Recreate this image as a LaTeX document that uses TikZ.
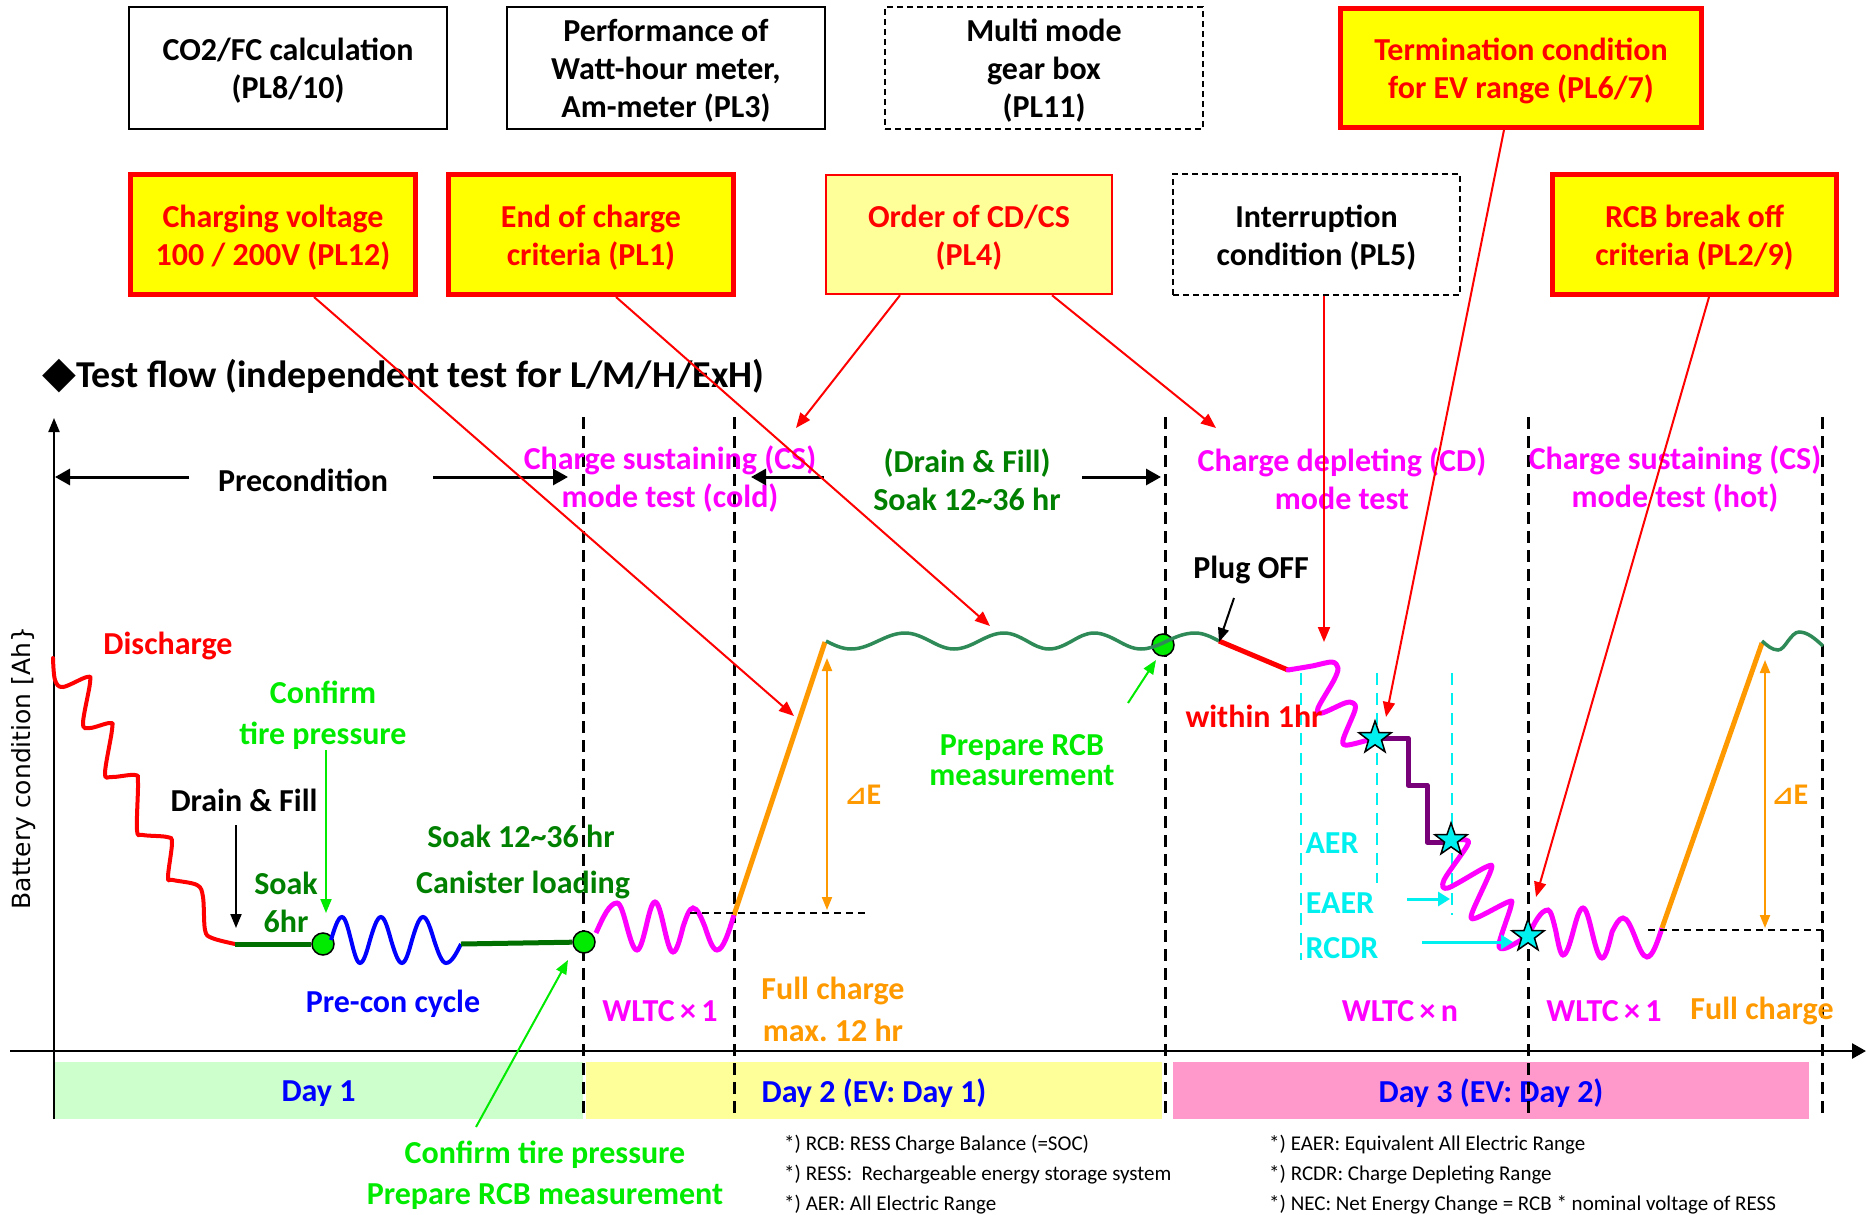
\documentclass[tikz,border=0pt]{standalone}
\usepackage{fontspec}
\setmainfont{Carlito}
\newfontfamily\djv{DejaVu Sans}
\usetikzlibrary{arrows.meta,shapes.geometric,calc}
\definecolor{bgreen}{RGB}{0,235,0}
\definecolor{dgreen}{RGB}{0,128,0}
\definecolor{lgreen}{RGB}{0,112,0}
\definecolor{tealw}{RGB}{46,139,87}
\definecolor{mag}{RGB}{255,0,255}
\definecolor{orng}{RGB}{255,153,0}
\definecolor{cyn}{RGB}{0,240,240}
\definecolor{purp}{RGB}{120,0,120}
\definecolor{ylw}{RGB}{255,255,0}
\definecolor{lylw}{RGB}{255,255,153}
\definecolor{dayone}{RGB}{204,255,204}
\definecolor{daythree}{RGB}{255,153,204}
\definecolor{blu}{RGB}{0,0,255}
\definecolor{rd}{RGB}{255,0,0}
\frenchspacing
\begin{document}
\begin{tikzpicture}[x=1pt,y=-1pt,
  lab/.style={font=\bfseries\fontsize{32}{38}\selectfont,align=center,inner sep=0pt},
  tl/.style={lab,yshift=-3pt},
  foot/.style={font=\fontsize{21}{25}\selectfont,anchor=west,inner sep=0pt},
  bbox/.style={draw,line width=2pt,minimum width=#1,minimum height=122,inner sep=0pt},
  dbox/.style={draw,line width=2pt,dash pattern=on 6pt off 4pt,minimum width=#1,minimum height=121,inner sep=0pt},
  rbox/.style={draw=rd,fill=ylw,line width=5pt,minimum width=#1,minimum height=120,inner sep=0pt},
  obox/.style={draw=rd,fill=lylw,line width=2.5pt,minimum width=#1,minimum height=119,inner sep=0pt},
  band/.style={minimum height=57,inner sep=0pt},
  rarr/.style={draw=rd,line width=2pt,-{Triangle[length=15pt,width=12pt]}},
  garr/.style={draw=bgreen,line width=2pt,-{Triangle[length=14pt,width=11pt]}},
  karr/.style={draw=black,line width=3pt,-{Triangle[length=15pt,width=16pt]}},
  kthin/.style={draw=black,line width=2pt,-{Triangle[length=14pt,width=11pt]}},
  oarr/.style={draw=orng,line width=2pt,{Triangle[length=13pt,width=10pt]}-{Triangle[length=13pt,width=10pt]}},
  carr/.style={draw=cyn,line width=3pt,-{Triangle[length=12pt,width=14pt]}},
  divider/.style={draw=black,line width=3pt,dash pattern=on 12pt off 7pt},
  cdash/.style={draw=cyn,line width=2.5pt,dash pattern=on 12pt off 8pt},
  hdash/.style={draw=black,line width=2pt,dash pattern=on 7pt off 5pt},
  dot/.style={circle,minimum size=22pt,inner sep=0pt,fill=bgreen,draw=black,line width=1.5pt},
  mark5/.style={star,star points=5,star point ratio=2.5,minimum size=34pt,inner sep=0pt,fill=cyn,draw=black,line width=1.5pt}
]
\fill[white] (0,0) rectangle (1866,1215);
\useasboundingbox (0,0) rectangle (1866,1215);

% ---- top boxes
\node[bbox=318] (co2) at (288,68) {};
\node[tl] at (co2) {CO2/FC calculation\\(PL8/10)};
\node[bbox=318] (perf) at (666,68) {};
\node[tl] at (perf) {Performance of\\Watt-hour meter,\\Am-meter (PL3)};
\node[dbox=318,minimum height=122] (gear) at (1044,68) {};
\node[tl] at (gear) {Multi mode\\gear box\\(PL11)};
\node[rbox=361,minimum height=119] (term) at (1521,68) {};
\node[tl,text=rd] at (term) {Termination condition\\for EV range (PL6/7)};
\node[rbox=285] (chv) at (273,234.5) {};
\node[tl,text=rd] at (chv) {Charging voltage\\100 / 200V (PL12)};
\node[rbox=285] (eoc) at (591,234.5) {};
\node[tl,text=rd] at (eoc) {End of charge\\criteria (PL1)};
\node[obox=286] (ord) at (969,234.5) {};
\node[tl,text=rd] at (ord) {Order of CD/CS\\(PL4)};
\node[dbox=287] (intr) at (1316.5,234.5) {};
\node[tl] at (intr) {Interruption\\condition (PL5)};
\node[rbox=284] (rcbb) at (1694.5,234.5) {};
\node[tl,text=rd] at (rcbb) {RCB break off\\criteria (PL2/9)};

% ---- heading
\node[anchor=west,inner sep=0pt,font=\bfseries\fontsize{38}{44}\selectfont] (head) at (42,376)
  {{\djv\fontsize{44}{48}\selectfont ◆}Test flow (independent test for L/M/H/ExH)};

% ---- day bands
\node[band,fill=dayone,minimum width=529] (day1) at (318.5,1090.5) {};
\node[band,fill=lylw,minimum width=576] (day2) at (874,1090.5) {};
\node[band,fill=daythree,minimum width=636] (day3) at (1491,1090.5) {};
\node[tl,text=blu] (day1t) at (day1) {Day 1};
\node[tl,text=blu] (day2t) at (day2) {Day 2 (EV: Day 1)};
\node[tl,text=blu] (day3t) at (day3) {Day 3 (EV: Day 2)};

% ---- dividers
\foreach \xx in {583,734,1165,1528,1822} \draw[divider] (\xx,417) -- (\xx,1118);

% ---- axes
\coordinate (yb) at (54,1119); \coordinate (yt) at (54,418);
\coordinate (xl) at (10,1051); \coordinate (xr) at (1866,1051);
\draw[line width=2pt,-{Triangle[length=14pt,width=11pt]}] (yb) -- (yt);
\draw[line width=2.7pt,-{Triangle[length=14pt,width=15pt]}] (xl) -- (xr);
\node[rotate=90,font=\djv\fontsize{25}{30}\selectfont,inner sep=0pt] (ylab) at (24,768) {Battery condition [Ah\}};

% ---- phase labels
\node[tl] (pre) at (303,477) {Precondition};
\coordinate (pa1) at (189,477); \coordinate (pa2) at (55,477);
\coordinate (pb1) at (433,477); \coordinate (pb2) at (568,477);
\draw[karr] (pa1) -- (pa2);
\draw[karr] (pb1) -- (pb2);
\node[tl,text=mag] (cscold) at (670,476) {Charge sustaining (CS)\\mode test (cold)};
\node[tl,text=dgreen] (soakdf) at (967,477) {(Drain \& Fill)\\Soak 12\textasciitilde 36 hr};
\coordinate (da1) at (824,477); \coordinate (da2) at (751,477);
\coordinate (db1) at (1082,477); \coordinate (db2) at (1161,477);
\draw[karr] (da1) -- (da2);
\draw[karr] (db1) -- (db2);
\node[tl,text=mag] (cd) at (1342,476) {Charge depleting (CD)\\mode test};
\node[tl,text=mag] (cshot) at (1675,476) {Charge sustaining (CS)\\mode test (hot)};

% ---- curve: discharge
\draw[rd,line width=4pt,line cap=round] plot[smooth,tension=0.55] coordinates {
 (53,658) (55,680) (63,687) (87,677) (90,683) (83,723) (90,728) (110,723) (112,730)
 (105,773) (112,777) (135,775) (138,783) (137,830) (143,835) (167,837) (172,843)
 (168,877) (173,880) (197,885) (203,897) (205,930) (212,938) (235,944)};
% soak line and precon
\coordinate (g0) at (235,944);
\node[dot] (c1) at (323,944) {};
\node[dot] (c2) at (584,942) {};
\draw[lgreen,line width=5pt] (g0) -- (c1);
\draw[blu,line width=4pt] (331,940) sin (342,917) cos (351,940) sin (360,963) cos (370,940) sin (381,917) cos (391,940)
  sin (402,963) cos (412,940) sin (423,917) cos (434,940) sin (446,963) cos (461,944);
\coordinate (g1) at (461,944);
\draw[lgreen,line width=5pt] (g1) -- (c2);
% cold WLTC
\draw[mag,line width=5pt] (596,933) sin (617,903) cos (627,927) sin (637,950) cos (646,927) sin (655,902) cos (664,927)
  sin (673,952) cos (683,927) sin (693,908) cos (705,927) sin (717,950) cos (734,915);
% charge
\coordinate (o1) at (734,915); \coordinate (o2) at (825,642);
\draw[orng,line width=5pt] (o1) -- (o2);
\draw[hdash] (690,913) -- (866,913);
\coordinate (de1) at (827,658); \coordinate (de2) at (827,910);
\draw[oarr] (de1) -- (de2);
\node[font=\bfseries\fontsize{30}{36}\selectfont,text=orng,inner sep=0pt] (dE1) at (863,795) {{\djv\fontsize{26}{30}\selectfont ⊿}E};
% soak wave
\node[dot] (c3) at (1163,645) {};
\draw[tealw,line width=3.5pt] (826,641) sin (851,649) cos (878,641) sin (905,633) cos (930,641) sin (954,649) cos (979,641)
  sin (1004,633) cos (1027,641) sin (1049,649) cos (1072,641) sin (1094,633) cos (1118,641) sin (1141,649) cos (1163,643)
  sin (1195,633) cos (1219,641);
\coordinate (plug) at (1219,641); \coordinate (cdst) at (1288,670);
\draw[rd,line width=5pt] (plug) -- (cdst);
% CD test
\draw[cdash] (1301,673) -- (1301,960);
\draw[cdash] (1377,673) -- (1377,883);
\draw[cdash] (1452,673) -- (1452,915);
\draw[mag,line width=5pt,line cap=round,line join=round] plot[smooth,tension=0.5] coordinates {
 (1288,670) (1312,666) (1332,662) (1338,668) (1334,680) (1318,708) (1322,713) (1345,703) (1353,703)
 (1355,710) (1343,740) (1348,745) (1375,738)};
\draw[purp,line width=5pt,line join=round] (1375,738) -- (1408,738) -- (1408,785) -- (1427,785) -- (1427,842) -- (1451,842);
\draw[mag,line width=5pt,line cap=round,line join=round] plot[smooth,tension=0.5] coordinates {
 (1451,840) (1466,840) (1467,846) (1444,880) (1448,888) (1486,867) (1491,870) (1472,913) (1476,918)
 (1508,902) (1511,906) (1499,944) (1506,948) (1528,936)};
% hot WLTC
\draw[mag,line width=5pt] (1528,936) sin (1548,910) cos (1556,932) sin (1563,955) cos (1573,932) sin (1583,908) cos (1592,932)
  sin (1602,958) cos (1612,932) sin (1623,918) cos (1635,937) sin (1647,957) cos (1662,928);
\coordinate (o3) at (1662,928); \coordinate (o4) at (1762,643);
\draw[orng,line width=5pt] (o3) -- (o4);
\draw[tealw,line width=3.5pt] (1762,641) sin (1778,650) cos (1788,641) sin (1799,632) cos (1823,646);
\draw[hdash] (1648,930) -- (1823,930);
\coordinate (de3) at (1765,660); \coordinate (de4) at (1765,928);
\draw[oarr] (de3) -- (de4);
\node[font=\bfseries\fontsize{30}{36}\selectfont,text=orng,inner sep=0pt] (dE2) at (1790,795) {{\djv\fontsize{26}{30}\selectfont ⊿}E};

% stars
\node[mark5] (s1) at (1375,738) {};
\node[mark5] (s2) at (1451,840) {};
\node[mark5] (s3) at (1528,936) {};

% cyan labels and arrows
\node[tl,text=cyn] (aer) at (1332,840) {AER};
\node[tl,text=cyn] (eaer) at (1340,900) {EAER};
\node[tl,text=cyn] (rcdr) at (1342,945) {RCDR};
\coordinate (ea1) at (1407,899); \coordinate (ea2) at (1450,899);
\coordinate (rc1) at (1422,942); \coordinate (rc2) at (1513,942);
\draw[carr] (ea1) -- (ea2);
\draw[carr] (rc1) -- (rc2);

% ---- other labels
\node[tl,text=rd] (dis) at (168,643) {Discharge};
\node[tl,text=bgreen,font=\bfseries\fontsize{32}{41}\selectfont] (ctp) at (323,712) {Confirm\\tire pressure};
\coordinate (ga1) at (326,750); \coordinate (ga2) at (326,913);
\draw[garr] (ga1) -- (ga2);
\node[tl] (df) at (244,797) {Drain \& Fill};
\coordinate (ka1) at (236,825); \coordinate (ka2) at (236,928);
\draw[kthin] (ka1) -- (ka2);
\node[tl,text=dgreen] (soak6) at (286,899) {Soak\\6hr};
\node[tl,text=dgreen] (soak12) at (521,833) {Soak 12\textasciitilde 36 hr};
\node[tl,text=dgreen] (can) at (523,882) {Canister loading};
\node[tl,text=blu] (precon) at (393,1001) {Pre-con cycle};
\node[tl,text=mag] (w1) at (660,1008) {WLTC\,×\,1};
\node[tl,text=orng,font=\bfseries\fontsize{32}{42}\selectfont] (fc1) at (833,1006) {Full charge\\max. 12 hr};
\node[tl,text=bgreen,font=\bfseries\fontsize{32}{41}\selectfont] (ctp2) at (545,1172) {Confirm tire pressure\\Prepare RCB measurement};
\coordinate (gb1) at (476,1127); \coordinate (gb2) at (568,960);
\draw[garr] (gb1) -- (gb2);
\node[tl,text=bgreen,font=\bfseries\fontsize{32}{30}\selectfont] (prcb) at (1022,757) {Prepare RCB\\measurement};
\coordinate (gc1) at (1128,703); \coordinate (gc2) at (1156,660);
\draw[garr] (gc1) -- (gc2);
\node[tl] (plugoff) at (1251,567) {Plug OFF};
\coordinate (pk1) at (1234,598); \coordinate (pk2) at (1219,642);
\draw[kthin] (pk1) -- (pk2);
\node[tl,text=rd] (w1h) at (1254,713) {within 1hr};
\node[tl,text=mag] (wn) at (1400,1008) {WLTC\,×\,n};
\node[tl,text=mag] (w1b) at (1604,1008) {WLTC\,×\,1};
\node[tl,text=orng] (fc2) at (1762,1008) {Full charge};

% ---- footnotes
\node[foot] (f1) at (784,1145) {*) RCB: RESS Charge Balance (=SOC)};
\node[foot] (f2) at (784,1175) {*) RESS:\ \ Rechargeable energy storage system};
\node[foot] (f3) at (784,1205) {*) AER: All Electric Range};
\node[foot] (f4) at (1269,1145) {*) EAER: Equivalent All Electric Range};
\node[foot] (f5) at (1269,1175) {*) RCDR: Charge Depleting Range};
\node[foot] (f6) at (1269,1205) {*) NEC: Net Energy Change = RCB * nominal voltage of RESS};

% ---- red connectors
\coordinate (t1) at (794,716);
\coordinate (t2) at (990,626);
\coordinate (t3) at (796,428);
\coordinate (t4) at (1216,428);
\coordinate (t5) at (1324,642);
\coordinate (t6) at (1386,717);
\coordinate (t7) at (1536,897);
\draw[rarr] ([xshift=41pt]chv.south) -- (t1);
\draw[rarr] ([xshift=25pt]eoc.south) -- (t2);
\draw[rarr] ([xshift=-69pt]ord.south) -- (t3);
\draw[rarr] ([xshift=83pt]ord.south) -- (t4);
\draw[rarr] ([xshift=7.5pt]intr.south) -- (t5);
\draw[rarr] ([xshift=-17pt]term.south) -- (t6);
\draw[rarr] ([xshift=14.5pt]rcbb.south) -- (t7);
\end{tikzpicture}
\end{document}
